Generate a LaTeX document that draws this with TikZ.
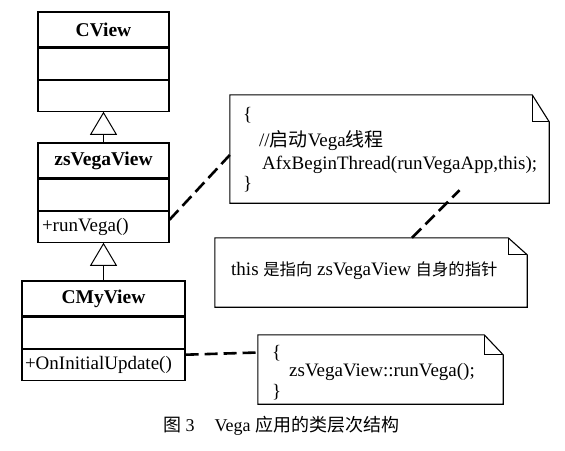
\documentclass[tikz,border=0pt]{standalone}
\usepackage{fontspec}
\setmainfont{Liberation Serif}
\newfontfamily\cjk{Noto Sans CJK SC}
\newfontfamily\cjksmall[Scale=0.86]{Noto Sans CJK SC}
\usetikzlibrary{arrows.meta, positioning}

\newcommand{\bodyfont}{\fontsize{19}{23}\selectfont}
% outline of a note with a folded corner: node name, fold width, fold height
\newcommand{\notepath}[3]{%
  \draw[notebox] (#1.north west) -- ([xshift=-#2pt]#1.north east)
    -- ([yshift=-#3pt]#1.north east) -- (#1.south east)
    -- (#1.south west) -- cycle;
  \draw[notebox] ([xshift=-#2pt]#1.north east) |- ([yshift=-#3pt]#1.north east);
}

\begin{document}
\begin{tikzpicture}[
    x=1pt, y=-1pt,
    part/.style={
        draw=black, line width=1.1pt, fill=white,
        inner xsep=4pt, inner ysep=0pt,
        minimum height=31pt, font=\bodyfont
    },
    title/.style={
        part, minimum height=35pt, font=\fontsize{19.5}{23}\selectfont\bfseries
    },
    ops/.style={
        part, text width=#1, align=left
    },
    note/.style={
        inner sep=0pt, minimum width=#1
    },
    notebox/.style={
        black, line width=1.1pt, line join=miter
    },
    notetext/.style={
        anchor=west, inner sep=0pt, font=\bodyfont
    },
    inherit/.style={
        -{Triangle[open, length=23pt, width=27pt]}, line width=1pt, black
    },
    link/.style={
        black, line width=2.6pt, dash pattern=on 13pt off 6pt
    }
]
\useasboundingbox (0,0) rectangle (565,450);

% class hierarchy
\node[title, minimum width=131pt] (cview) at (103.5,29.5) {CView};
\node[part, minimum width=131pt, below=0pt of cview] (cvattr) {};
\node[part, minimum width=131pt, below=0pt of cvattr] (cvops) {};

\node[title, minimum width=131pt] (zsview) at (103.5,160.5) {zsVegaView};
\node[part, minimum width=131pt, below=0pt of zsview] (zsattr) {};
\node[ops=123pt, below=0pt of zsattr] (zsops) {+runVega()};

\node[title, minimum width=163pt] (myview) at (103.5,298.5) {CMyView};
\node[part, minimum width=163pt, below=0pt of myview] (myattr) {};
\node[ops=157pt, inner xsep=3pt, below=0pt of myattr] (myops) {+OnInitialUpdate()};

\draw[inherit] (zsview.north) -- (cvops.south);
\draw[inherit] (myview.north) -- (zsops.south);

% notes
\node[note=319pt, minimum height=108pt] (n1) at (389.5,149) {};
\notepath{n1}{17}{27}
\node[notetext] (n1a) at (243,115) {\{};
\node[notetext] (n1b) at (259,141) {//{\cjk 启动}Vega{\cjk 线程}};
\node[notetext] (n1c) at (262,165) {AfxBeginThread(runVegaApp,this);};
\node[notetext] (n1d) at (243,184) {\}};

\node[note=312pt, minimum height=69pt] (n2) at (371,272.5) {};
\notepath{n2}{19}{17}
\node[notetext] (n2a) at (231,271) {this {\cjksmall 是指向} zsVegaView {\cjksmall 自身的指针}};

\node[note=245pt, minimum height=69pt] (n3) at (380.5,369.5) {};
\notepath{n3}{19}{20}
\node[notetext] (n3a) at (272,353) {\{};
\node[notetext] (n3b) at (289,372) {zsVegaView::runVega();};
\node[notetext] (n3c) at (272,392) {\}};

% note links
\draw[link] ([yshift=7pt]zsops.east) -- ([yshift=-6pt]n1.west);
\draw[link] ([xshift=41pt]n2.north) -- ([xshift=70pt,yshift=13pt]n1.south);
\draw[link] ([yshift=10pt]myops.east) -- ([yshift=17pt]n3.west);

% caption
\node[anchor=west, inner sep=0pt, font=\fontsize{18}{22}\selectfont] (cap) at (163,426)
    {{\cjk 图} 3\hspace{20pt}Vega {\cjk 应用的类层次结构}};
\end{tikzpicture}
\end{document}
